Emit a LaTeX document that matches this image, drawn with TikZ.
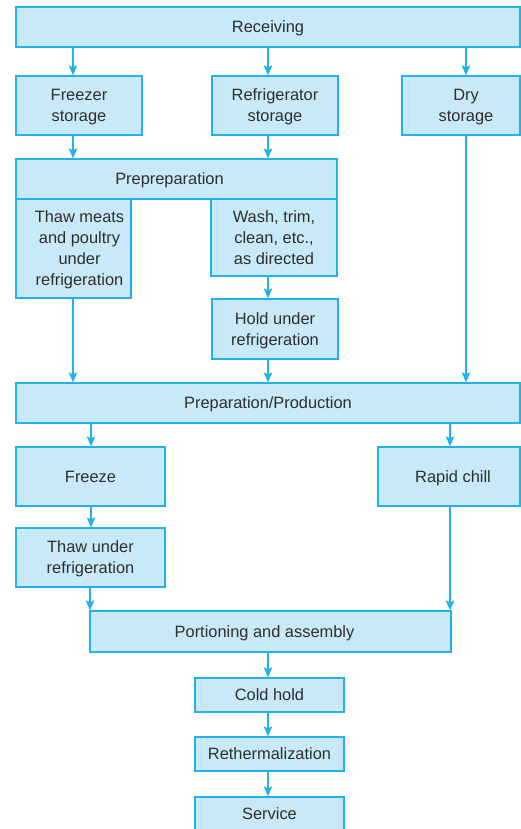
\documentclass[tikz,border=0pt]{standalone}
\usepackage{fontspec}
\setmainfont{Liberation Sans}
\usetikzlibrary{arrows.meta}
\definecolor{boxfill}{HTML}{C8E9F8}
\definecolor{boxline}{HTML}{22B1EA}
\definecolor{txt}{HTML}{2E2E2E}
\tikzset{
  box/.style n args={2}{draw=boxline, fill=boxfill, line width=1.3pt, inner sep=0pt,
    minimum width=#1pt, minimum height=#2pt, font=\fontsize{16.4}{21}\selectfont,
    text=txt, align=center, text depth=0pt},
  every label/.style={font=\fontsize{16.4}{21}\selectfont, text=txt, align=center,
    inner sep=0pt, text depth=0pt},
  arr/.style={draw=boxline, line width=1.4pt, -{Stealth[length=10pt,width=8.5pt,inset=2pt]}}
}
\begin{document}
\begin{tikzpicture}[x=1pt,y=-1pt]
\useasboundingbox (0,0) rectangle (521,829);
\clip (0,0) rectangle (521,829);
\fill[white] (0,0) rectangle (521,829);
% boxes
\node[box={504}{40}] (rec) at (268,27) {Receiving};
\node[box={126}{59}] (frz) at (79,105.5) {Freezer\\storage};
\node[box={126}{59}] (ref) at (275,105.5) {Refrigerator\\storage};
\node[box={118}{59}, label={[name=drytxt,xshift=5pt]center:Dry\\storage}] (dry) at (461,105.5) {};
\node[box={321}{40}, label={[name=pretxt,xshift=-7pt]center:Prepreparation}] (pre) at (176.5,179) {};
\node[box={115}{99}, label={[name=thmtxt,xshift=6pt]center:Thaw meats\\and poultry\\under\\refrigeration}] (thm) at (73.5,248.5) {};
\node[box={126}{77}] (was) at (274,237.5) {Wash, trim,\\clean, etc.,\\as directed};
\node[box={126}{60}] (hol) at (275,329) {Hold under\\refrigeration};
\node[box={504}{40}] (ppp) at (268,403) {Preparation/Production};
\node[box={149}{59}] (fre) at (90.5,476.5) {Freeze};
\node[box={142}{59}, label={[name=raptxt,xshift=4pt]center:Rapid chill}] (rap) at (449,476.5) {};
\node[box={149}{59}] (thu) at (90.5,557.5) {Thaw under\\refrigeration};
\node[box={361}{41}, label={[name=portxt,xshift=-6pt]center:Portioning and assembly}] (por) at (270.5,631.5) {};
\node[box={149}{34}] (col) at (269.5,695) {Cold hold};
\node[box={149}{34}] (ret) at (269.5,754) {Rethermalization};
\node[box={149}{34}] (ser) at (269.5,814) {Service};
% arrow columns
\coordinate (xa) at (73,0);
\coordinate (xb) at (268,0);
\coordinate (xc) at (466,0);
\coordinate (xd) at (91,0);
\coordinate (xe) at (450,0);
\coordinate (xf) at (90,0);
% connectors
\draw[arr] (rec.south -| xa) -- (frz.north -| xa);
\draw[arr] (rec.south -| xb) -- (ref.north -| xb);
\draw[arr] (rec.south -| xc) -- (dry.north -| xc);
\draw[arr] (frz.south -| xa) -- (pre.north -| xa);
\draw[arr] (ref.south -| xb) -- (pre.north -| xb);
\draw[arr] (dry.south -| xc) -- (ppp.north -| xc);
\draw[arr] (thm.south -| xa) -- (ppp.north -| xa);
\draw[arr] (was.south -| xb) -- (hol.north -| xb);
\draw[arr] (hol.south -| xb) -- (ppp.north -| xb);
\draw[arr] (ppp.south -| xd) -- (fre.north -| xd);
\draw[arr] (ppp.south -| xe) -- (rap.north -| xe);
\draw[arr] (fre.south -| xd) -- (thu.north -| xd);
\draw[arr] (thu.south -| xf) -- (por.north -| xf);
\draw[arr] (rap.south -| xe) -- (por.north -| xe);
\draw[arr] (por.south -| xb) -- (col.north -| xb);
\draw[arr] (col.south -| xb) -- (ret.north -| xb);
\draw[arr] (ret.south -| xb) -- (ser.north -| xb);
\end{tikzpicture}
\end{document}
